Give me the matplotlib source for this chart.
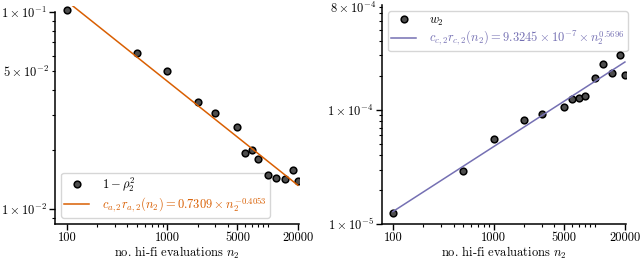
import numpy as np
import matplotlib
matplotlib.use("Agg")
import matplotlib.pyplot as plt
from matplotlib.ticker import FixedLocator, FixedFormatter, NullFormatter

plt.rcParams['font.family'] = 'serif'
plt.rcParams['font.serif'] = ['cmr10']
plt.rcParams['mathtext.fontset'] = 'cm'
plt.rcParams['axes.formatter.use_mathtext'] = True
plt.rcParams['font.size'] = 9

# number of hi-fi evaluations
n2 = np.array([100, 500, 1000, 2000, 3000, 5000, 6000, 7000, 8000,
               10000, 12000, 15000, 18000, 20000])

# 1 - rho_2^2
rho_term = np.array([0.102, 0.0617, 0.0499, 0.0349, 0.0308, 0.0262, 0.0192,
                     0.0200, 0.0179, 0.0149, 0.0144, 0.0142, 0.0158, 0.0139])
# w_2
w2 = np.array([1.245e-5, 2.90e-5, 5.59e-5, 8.14e-5, 9.24e-5, 1.06e-4, 1.24e-4,
               1.28e-4, 1.33e-4, 1.91e-4, 2.54e-4, 2.09e-4, 3.00e-4, 2.04e-4])

# fitted power laws (from legend)
ca, pa = 0.7309, -0.4053
cc, pc = 9.3245e-7, 0.5696

orange = '#d95f02'
purple = '#7570b3'

fig = plt.figure(figsize=(6.4, 2.6), dpi=100)
ax1 = fig.add_axes([55/640, 36/260, 244/640, 218/260])
ax2 = fig.add_axes([382/640, 36/260, 244/640, 219/260])

xt = [100, 1000, 5000, 20000]
xminor = [200, 300, 400, 500, 600, 700, 800, 900, 2000, 3000, 4000,
          6000, 7000, 8000, 9000, 10000]

def style(ax):
    for s in ['top', 'right']:
        ax.spines[s].set_visible(False)
    for s in ['left', 'bottom']:
        ax.spines[s].set_linewidth(1.1)
    ax.set_xscale('log')
    ax.set_yscale('log')
    ax.xaxis.set_major_locator(FixedLocator(xt))
    ax.xaxis.set_major_formatter(FixedFormatter([str(v) for v in xt]))
    ax.xaxis.set_minor_locator(FixedLocator(xminor))
    ax.xaxis.set_minor_formatter(NullFormatter())
    ax.tick_params(which='major', length=4, width=1, pad=2)
    ax.tick_params(which='minor', length=2.2, width=0.8, pad=2)
    ax.set_xlabel(r'no. hi-fi evaluations $n_2$', labelpad=0, fontsize=9)

legend_kw = dict(fontsize=9, borderaxespad=0.5, labelspacing=0.1,
                 borderpad=0.25, handletextpad=1.0)

# left panel
ends = np.array([n2.min(), n2.max()])
ax1.plot(n2, rho_term, 'o', mfc='0.3', mec='k', ms=4.8, mew=1.1,
         label=r'$1-\rho_2^2$', zorder=6)
ax1.plot(ends, ca * ends**pa, color=orange, lw=1.1,
         label=r'$c_{a,2}r_{a,2}(n_2)=0.7309\times n_2^{-0.4053}$', zorder=6)
style(ax1)
ax1.set_xlim(76, 20500)
ax1.set_ylim(0.0084, 0.107)
ax1.spines['left'].set_bounds(0.0084, 0.1)
ax1.yaxis.set_major_locator(FixedLocator([0.01, 0.1]))
ax1.yaxis.set_major_formatter(FixedFormatter([r'$1\times10^{-2}$', r'$1\times10^{-1}$']))
ax1.yaxis.set_minor_locator(FixedLocator([0.009, 0.02, 0.03, 0.04, 0.05, 0.06, 0.07, 0.08, 0.09]))
ax1.yaxis.set_minor_formatter(FixedFormatter(['', '', '', '', r'$5\times10^{-2}$', '', '', '', '']))
leg1 = ax1.legend(loc='lower left', **legend_kw)
leg1.get_texts()[1].set_color(orange)

# right panel
ax2.plot(n2, w2, 'o', mfc='0.3', mec='k', ms=4.8, mew=1.1,
         label=r'$w_2$', zorder=6)
ax2.plot(ends, cc * ends**pc, color=purple, lw=1.1,
         label=r'$c_{c,2}r_{c,2}(n_2)=9.3245\times10^{-7}\times n_2^{0.5696}$', zorder=6)
style(ax2)
ax2.set_xlim(78, 20500)
ax2.set_ylim(1e-5, 8.3e-4)
ax2.yaxis.set_major_locator(FixedLocator([1e-5, 1e-4]))
ax2.yaxis.set_major_formatter(FixedFormatter([r'$1\times10^{-5}$', r'$1\times10^{-4}$']))
ax2.yaxis.set_minor_locator(FixedLocator([2e-5, 3e-5, 4e-5, 5e-5, 6e-5, 7e-5, 8e-5, 9e-5,
                                          2e-4, 3e-4, 4e-4, 5e-4, 6e-4, 7e-4, 8e-4]))
ax2.yaxis.set_minor_formatter(FixedFormatter([''] * 14 + [r'$8\times10^{-4}$']))
leg2 = ax2.legend(loc='upper left', **legend_kw)
leg2.get_texts()[1].set_color(purple)

fig.savefig('out.png', dpi=100)
